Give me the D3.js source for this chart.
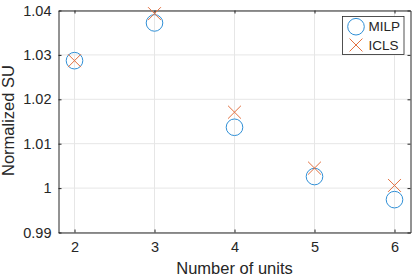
<!DOCTYPE html>
<html>
<head>
<meta charset="utf-8">
<script src="https://cdn.jsdelivr.net/npm/d3@7"></script>
<style>
	body { margin:0; background:#fff; }
	text { font-family: "Liberation Sans", Arial, sans-serif; fill:#262626; }
</style>
</head>
<body>
<div id="chart-area"></div>
<script>
// Normalized SU vs number of units
var units = [2, 3, 4, 5, 6];
var milp = [1.0287, 1.0372, 1.0137, 1.0026, 0.9974];
var icls = [1.0287, 1.0393, 1.0171, 1.0045, 1.0006];
var xTicks = [2, 3, 4, 5, 6];
var yTicks = [0.99, 1, 1.01, 1.02, 1.03, 1.04];
var seriesNames = ["MILP", "ICLS"];

var W = 415, H = 278;
var margin = { left:58.5, right:4.5, top:10.5, bottom:45.5 };
var width = W - margin.left - margin.right;
var height = H - margin.top - margin.bottom;

var svg = d3.select("#chart-area")
	.append("svg")
		.attr("width", W)
		.attr("height", H);

var g = svg.append("g")
		.attr("transform", "translate(" + margin.left + "," + margin.top + ")");

var x = d3.scaleLinear()
	.domain([1.8, 6.2])
	.range([0, width]);

var y = d3.scaleLinear()
	.domain([0.99, 1.04])
	.range([height, 0]);

// grid lines
g.selectAll(".gx")
	.data(xTicks)
	.enter().append("line")
		.attr("x1", function(d){ return x(d); })
		.attr("x2", function(d){ return x(d); })
		.attr("y1", 0)
		.attr("y2", height)
		.attr("stroke", "#e6e6e6");

g.selectAll(".gy")
	.data(yTicks)
	.enter().append("line")
		.attr("y1", function(d){ return y(d); })
		.attr("y2", function(d){ return y(d); })
		.attr("x1", 0)
		.attr("x2", width)
		.attr("stroke", "#e6e6e6");

// axes (ticks inside, mirrored on the box)
var xAxisCall = d3.axisBottom(x)
	.tickValues(xTicks)
	.tickSizeInner(-3)
	.tickSizeOuter(0)
	.tickPadding(9)
	.tickFormat(d3.format("d"));

var yAxisCall = d3.axisLeft(y)
	.tickValues(yTicks)
	.tickSizeInner(-3)
	.tickSizeOuter(0)
	.tickPadding(7)
	.tickFormat(function(d){ return d === 1 ? "1" : d3.format(".2f")(d); });

var xAxisGroup = g.append("g")
	.attr("transform", "translate(0," + height + ")")
	.call(xAxisCall);

var yAxisGroup = g.append("g")
	.call(yAxisCall);

g.append("g")
	.call(d3.axisTop(x).tickValues(xTicks).tickSizeInner(-3).tickSizeOuter(0).tickFormat(""));
g.append("g")
	.attr("transform", "translate(" + width + ",0)")
	.call(d3.axisRight(y).tickValues(yTicks).tickSizeInner(-3).tickSizeOuter(0).tickFormat(""));

g.selectAll(".domain").attr("stroke", "#262626");
g.selectAll(".tick line").attr("stroke", "#262626");
g.selectAll(".tick text")
	.attr("font-size", "14.5px")
	.attr("fill", "#262626")
	.style("font-family", "'Liberation Sans', Arial, sans-serif");

// axis labels
g.append("text")
	.attr("x", width/2)
	.attr("y", height + 41)
	.attr("text-anchor", "middle")
	.attr("font-size", "16.5px")
	.text("Number of units");

g.append("text")
	.attr("transform", "rotate(-90)")
	.attr("x", -(y(1.04) + 110))
	.attr("y", -45)
	.attr("text-anchor", "middle")
	.attr("font-size", "16.5px")
	.text("Normalized SU");

var blue = "#2f8fd6", orange = "#e2703f";

// MILP circles
g.selectAll(".milp")
	.data(units)
	.enter().append("circle")
		.attr("cx", function(d){ return x(d); })
		.attr("cy", function(d, i){ return y(milp[i]); })
		.attr("r", 8.3)
		.attr("fill", "none")
		.attr("stroke", blue)
		.attr("stroke-width", 1);

// ICLS crosses
var cross = d3.symbol().type(d3.symbolX).size(110);
g.selectAll(".icls")
	.data(units)
	.enter().append("path")
		.attr("transform", function(d, i){ return "translate(" + x(d) + "," + y(icls[i]) + ")"; })
		.attr("d", cross)
		.attr("fill", "none")
		.attr("stroke", orange)
		.attr("stroke-width", 1);

// legend
var legend = svg.append("g")
	.attr("transform", "translate(342.5,16.5)");

legend.append("rect")
	.attr("width", 61.5)
	.attr("height", 38)
	.attr("fill", "#fff")
	.attr("stroke", "#262626")
	.attr("stroke-width", 0.8);

legend.append("circle")
	.attr("cx", 13.5)
	.attr("cy", 10.2)
	.attr("r", 8.3)
	.attr("fill", "none")
	.attr("stroke", blue);

legend.append("path")
	.attr("transform", "translate(13.5,28.5)")
	.attr("d", cross)
	.attr("fill", "none")
	.attr("stroke", orange);

legend.selectAll(".lt")
	.data(seriesNames)
	.enter().append("text")
		.attr("x", 26)
		.attr("y", function(d, i){ return 10.2 + i*18.3; })
		.attr("dy", "0.35em")
		.attr("font-size", "13.5px")
		.attr("fill", "#000")
		.text(function(d){ return d; });
</script>
</body>
</html>
